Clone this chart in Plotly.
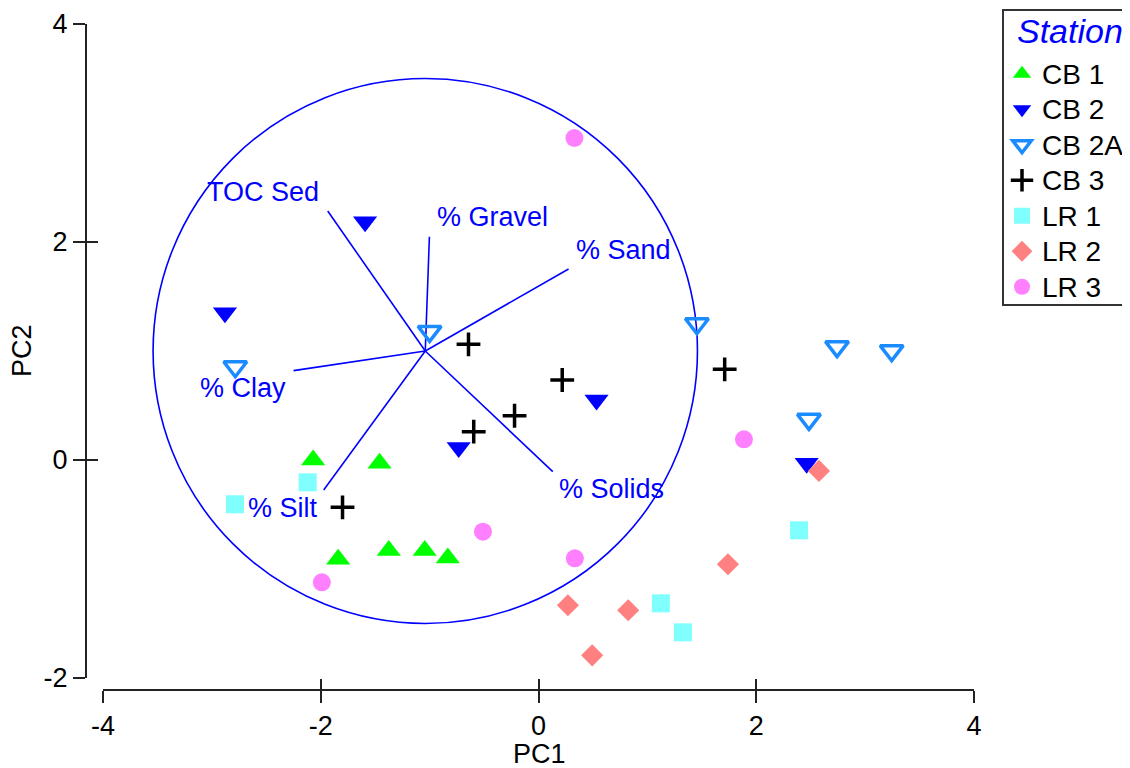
import plotly.graph_objects as go

# ---- data ----
stations = ["CB 1", "CB 2", "CB 2A", "CB 3", "LR 1", "LR 2", "LR 3"]
cb1_x = [-2.07, -1.46, -1.84, -1.375, -1.045, -0.833]
cb1_y = [0.00, -0.03, -0.91, -0.83, -0.83, -0.90]
cb2_x = [-1.593, -2.88, -0.733, 0.533, 2.463]
cb2_y = [2.186, 1.35, 0.115, 0.55, -0.03]
cb2a_x = [-1.0, -2.785, 1.455, 2.742, 3.244, 2.484]
cb2a_y = [1.18, 0.856, 1.25, 1.04, 1.003, 0.373]
cb3_x = [-0.643, 0.218, -0.22, -0.595, -1.8, 1.71]
cb3_y = [1.061, 0.734, 0.406, 0.26, -0.434, 0.832]
lr1_x = [-2.12, -2.788, 2.393, 1.124, 1.326]
lr1_y = [-0.205, -0.406, -0.645, -1.315, -1.581]
lr2_x = [2.576, 1.74, 0.27, 0.824, 0.493]
lr2_y = [-0.10, -0.957, -1.333, -1.379, -1.792]
lr3_x = [0.33, 1.887, -0.51, 0.334, -1.99]
lr3_y = [2.954, 0.19, -0.658, -0.902, -1.122]

# loading vectors
var_names = ["TOC Sed", "% Gravel", "% Sand", "% Clay", "% Silt", "% Solids"]
vec_end_x = [-1.936, -1.002, 0.276, -2.25, -1.973, 0.131]
vec_end_y = [2.284, 2.049, 1.752, 0.82, -0.275, -0.107]
label_x = [-2.528, -0.423, 0.781, -2.711, -2.348, 0.671]
label_y = [2.459, 2.229, 1.927, 0.661, -0.436, -0.266]
origin_x, origin_y = -1.04, 1.0
circle_r = 2.5

x_ticks = [-4, -2, 0, 2, 4]
x_ticktext = ["-4", "-2", "0", "2", "4"]
y_ticks = [-2, 0, 2, 4]
y_ticktext = ["-2", "0", "2", "4"]

FONT = "Liberation Sans, Arial, sans-serif"
BLUE = "#0000FF"
FS = 27

styles = [
    dict(symbol="triangle-up", color="#00FF00", size=21),
    dict(symbol="triangle-down", color="#0000FF", size=21),
    dict(symbol="triangle-down-open", color="#1A8CFF", size=20, line=dict(width=3.5, color="#1A8CFF")),
    dict(symbol="cross-thin-open", color="#000000", size=17, line=dict(width=3.5, color="#000000")),
    dict(symbol="square", color="#80FFFF", size=18),
    dict(symbol="diamond", color="#FF8080", size=17),
    dict(symbol="circle", color="#FF80FF", size=18),
]
xs = [cb1_x, cb2_x, cb2a_x, cb3_x, lr1_x, lr2_x, lr3_x]
ys = [cb1_y, cb2_y, cb2a_y, cb3_y, lr1_y, lr2_y, lr3_y]

fig = go.Figure()

# loading vector lines
lx, ly = [], []
for ex, ey in zip(vec_end_x, vec_end_y):
    lx += [origin_x, ex, None]
    ly += [origin_y, ey, None]
fig.add_trace(go.Scatter(x=lx, y=ly, mode="lines", line=dict(color=BLUE, width=1.6),
                         showlegend=False, hoverinfo="skip"))

for name, sx, sy, st in zip(stations, xs, ys, styles):
    fig.add_trace(go.Scatter(x=sx, y=sy, mode="markers", marker=st,
                             name=f"<span style='font-size:28px'>{name}</span>",
                             hovertext=name))

# dummy trace for overlay axes (crossing ticks)
fig.add_trace(go.Scatter(x=[None], y=[None], xaxis="x2", yaxis="y2", showlegend=False))

fig.add_shape(type="circle", xref="x", yref="y",
              x0=origin_x - circle_r, x1=origin_x + circle_r,
              y0=origin_y - circle_r, y1=origin_y + circle_r,
              line=dict(color=BLUE, width=1.6), layer="below")

for t, ax_, ay_ in zip(var_names, label_x, label_y):
    fig.add_annotation(x=ax_, y=ay_, text=t, showarrow=False, xref="x", yref="y",
                       font=dict(family=FONT, size=FS, color=BLUE),
                       xanchor="center", yanchor="middle")

# page has an 8px body margin; figure sized to fit the window
W, H = 1122, 760
ml, mr, mt, mb = 78, 156, 16, 78
pw, ph = W - ml - mr, H - mt - mb
xdom = [17 / pw, 1]
ydom = [12 / ph, 1]


def px(xf):
    return (xf - ml) / pw


def py(yf):
    return (H - mb - yf) / ph


# axis titles
fig.add_annotation(text="PC1", xref="paper", yref="paper", x=px(531), y=py(746),
                   showarrow=False, xanchor="center", yanchor="middle",
                   font=dict(family=FONT, size=FS, color="black"))
fig.add_annotation(text="PC2", xref="paper", yref="paper", x=px(14), y=(ydom[0] + 1) / 2,
                   showarrow=False, xanchor="center", yanchor="middle", textangle=-90,
                   borderpad=0, font=dict(family=FONT, size=FS, color="black"))

# legend frame and title
fig.add_shape(type="rect", xref="paper", yref="paper", x0=px(995), x1=px(1135),
              y0=py(297), y1=py(2), line=dict(color="#333", width=2), fillcolor="white",
              layer="below")
fig.add_annotation(text="<i>Station</i>", xref="paper", yref="paper", x=px(1062), y=py(23),
                   showarrow=False, xanchor="center", yanchor="middle",
                   font=dict(family=FONT, size=34, color=BLUE))

axis_common = dict(showgrid=False, zeroline=False, ticks="outside", ticklen=12, tickwidth=2,
                   tickcolor="#222", showline=True, linecolor="#222", linewidth=2,
                   tickfont=dict(family=FONT, size=FS, color="black"))

fig.update_layout(
    width=W, height=H,
    margin=dict(l=ml, r=mr, t=mt, b=mb, autoexpand=False),
    paper_bgcolor="white", plot_bgcolor="white",
    font=dict(family=FONT, size=FS, color="black"),
    xaxis=dict(range=[-4, 4], domain=xdom, anchor="free", position=0,
               tickvals=x_ticks, ticktext=x_ticktext, **axis_common),
    yaxis=dict(range=[-2, 4], domain=ydom, anchor="free", position=0,
               tickvals=y_ticks, ticktext=y_ticktext, **axis_common),
    xaxis2=dict(range=[-4, 4], domain=xdom, anchor="free", position=0, overlaying="x",
                tickvals=x_ticks, ticks="inside", ticklen=11, tickwidth=2, tickcolor="#222",
                showticklabels=False, showgrid=False, zeroline=False, showline=False),
    yaxis2=dict(range=[-2, 4], domain=ydom, anchor="free", position=0, overlaying="y",
                tickvals=y_ticks, ticks="inside", ticklen=11, tickwidth=2, tickcolor="#222",
                showticklabels=False, showgrid=False, zeroline=False, showline=False),
    legend=dict(x=px(994), y=py(43), xanchor="left", yanchor="top",
                bgcolor="rgba(0,0,0,0)", borderwidth=0,
                font=dict(family=FONT, size=25, color="black"),
                itemsizing="trace"),
)

fig.write_html("out.html")
